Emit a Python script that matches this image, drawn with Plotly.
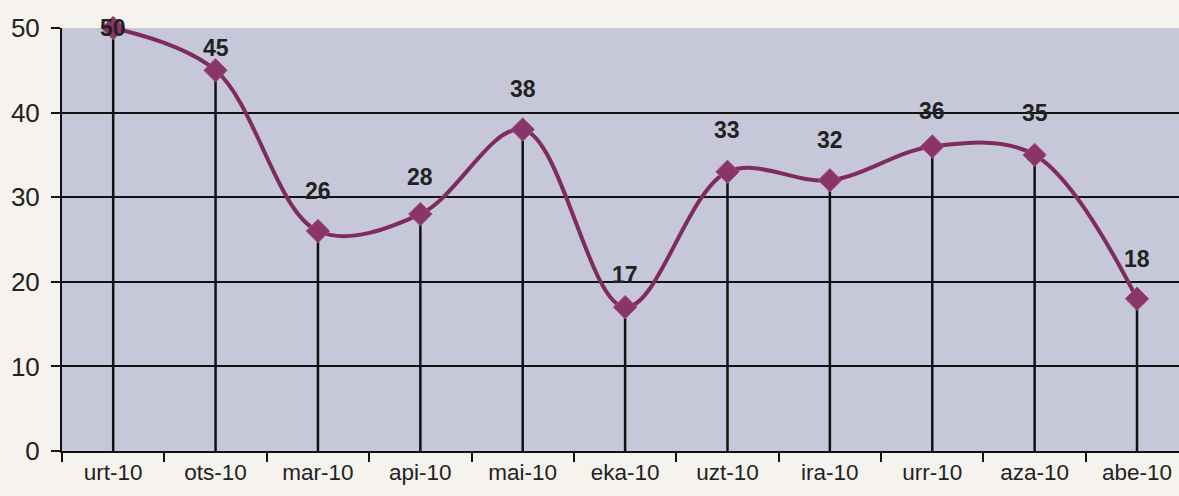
import plotly.graph_objects as go

categories = ["urt-10", "ots-10", "mar-10", "api-10", "mai-10", "eka-10",
              "uzt-10", "ira-10", "urr-10", "aza-10", "abe-10"]
values = [50, 45, 26, 28, 38, 17, 33, 32, 36, 35, 18]
label_shift = [0, 22, 40, 37, 41, 32, 42, 40, 35, 42, 40]
y_ticks = [0, 10, 20, 30, 40, 50]

LINE = "#7d2c5c"
MARK = "#8a3569"
PAPER = "#f6f3ee"

fig = go.Figure()

# drop lines from each point to the axis
drop_x, drop_y = [], []
for c, v in zip(categories, values):
    drop_x += [c, c, None]
    drop_y += [0, v, None]
fig.add_trace(go.Scatter(x=drop_x, y=drop_y, mode="lines",
                         line=dict(color="#111111", width=2.5),
                         hoverinfo="skip", showlegend=False, cliponaxis=False))

fig.add_trace(go.Scatter(
    x=categories, y=values, mode="lines+markers",
    line=dict(color=LINE, width=4, shape="spline", smoothing=1.0),
    marker=dict(symbol="diamond", size=18, color=MARK,
                line=dict(color="#a0507f", width=1)),
    cliponaxis=False, showlegend=False))

for c, v, s in zip(categories, values, label_shift):
    fig.add_annotation(x=c, y=v, text="<b>%d</b>" % v, showarrow=False, yshift=s,
                       font=dict(family="Liberation Sans, Arial", size=23,
                                 color="#222222"),
                       xanchor="center", yanchor="middle")

fig.update_layout(
    width=1179, height=496,
    margin=dict(l=62, r=0, t=28, b=45),
    paper_bgcolor=PAPER,
    plot_bgcolor="#c6c8d9",
    font=dict(family="Liberation Sans, Arial", color="#222222"),
)
fig.update_xaxes(
    type="category", categoryorder="array", categoryarray=categories,
    range=[-0.5, 10.41], tickson="boundaries", automargin=False,
    ticks="outside", ticklen=9, tickwidth=2, tickcolor="#111111",
    showline=True, linecolor="#111111", linewidth=2,
    showgrid=False, zeroline=False,
    tickfont=dict(size=22.5, color="#222222"),
)
fig.update_yaxes(
    range=[0, 50], tickvals=y_ticks, automargin=False,
    ticks="outside", ticklen=9, tickwidth=2, tickcolor="#111111",
    showline=True, linecolor="#111111", linewidth=2,
    showgrid=True, gridcolor="#111111", gridwidth=1.8,
    zeroline=False, ticklabelstandoff=6,
    tickfont=dict(size=26, color="#222222"),
)

fig.write_html(
    "out.html",
    config={"displayModeBar": False},
    post_script=("document.body.style.margin='0';"
                 "document.body.style.overflow='hidden';"
                 "document.body.style.background='%s';" % PAPER),
)
